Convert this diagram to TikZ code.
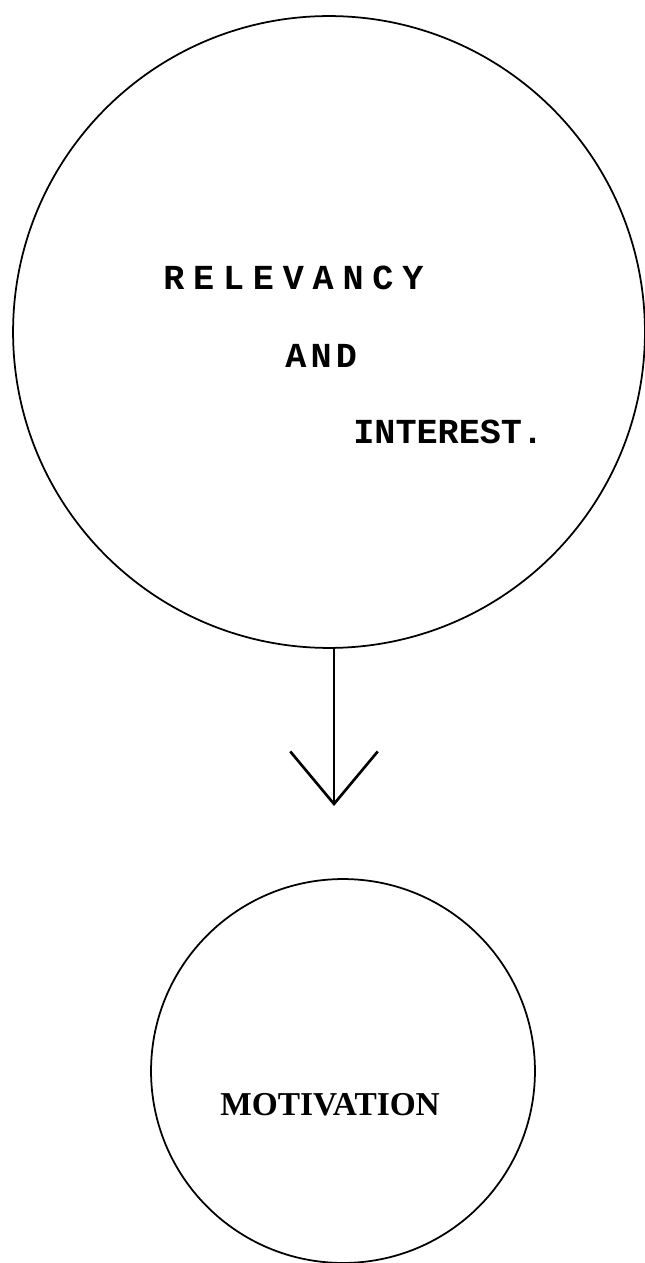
\documentclass[tikz,border=0pt]{standalone}
\usepackage{fontspec}
\usepackage{tikz}
\usetikzlibrary{arrows.meta}
\setmonofont{Liberation Mono}
\newfontfamily\spaziata[LetterSpace=25]{Liberation Mono}
\newfontfamily\pocospaziata[LetterSpace=12]{Liberation Mono}
\newfontfamily\titolo{Liberation Serif}

\begin{document}
\begin{tikzpicture}[x=0.02cm, y=-0.02cm]

% Cornice della pagina
\useasboundingbox (0,0) rectangle (645,1263);

% Cerchi
\node[circle, draw, line width=1pt, minimum size=12.64cm, inner sep=0pt] (relevancy) at (329,332) {};
\node[circle, draw, line width=1pt, minimum size=7.68cm, inner sep=0pt] (motivation) at (343,1071) {};

% Testi nel cerchio grande
\node[anchor=base west, inner sep=0pt, font=\spaziata\bfseries\fontsize{20}{24}\selectfont] (relTxt) at (163,290) {RELEVANCY};
\node[anchor=base west, inner sep=0pt, font=\pocospaziata\bfseries\fontsize{20}{24}\selectfont] (andTxt) at (285,368) {AND};
\node[anchor=base west, inner sep=0pt, font=\ttfamily\bfseries\fontsize{20}{24}\selectfont] (intTxt) at (353,443) {INTEREST.};

% Testo nel cerchio piccolo
\node[anchor=base west, inner sep=0pt, font=\titolo\bfseries\fontsize{19}{23}\selectfont] (motTxt) at (220,1115) {MOTIVATION};

% Freccia
\coordinate (punta) at (334,806);
\draw[line width=1.6pt, -{Straight Barb[length=1.05cm, width=1.75cm, line width=1.5pt]}] (relevancy.south -| punta) -- (punta);

\end{tikzpicture}
\end{document}
